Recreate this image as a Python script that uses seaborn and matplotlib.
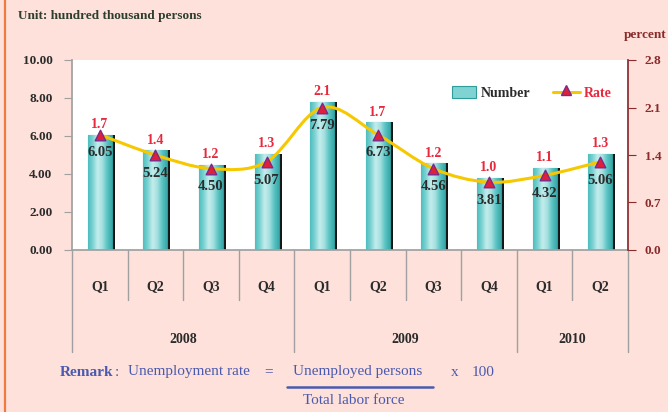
import matplotlib
matplotlib.use("Agg")
import matplotlib.pyplot as plt
import matplotlib.patheffects as pe
from matplotlib.path import Path
from matplotlib.patches import PathPatch
from matplotlib.colors import LinearSegmentedColormap
import matplotlib.transforms as mtransforms
import numpy as np
import pandas as pd
import seaborn as sns

# ---------------- data ----------------
years = ["2008", "2009", "2010"]
quarters = ["Q1", "Q2", "Q3", "Q4", "Q1", "Q2", "Q3", "Q4", "Q1", "Q2"]
period_year = ["2008"] * 4 + ["2009"] * 4 + ["2010"] * 2
numbers = [6.05, 5.24, 4.50, 5.07, 7.79, 6.73, 4.56, 3.81, 4.32, 5.06]
rates = [1.7, 1.4, 1.2, 1.3, 2.1, 1.7, 1.2, 1.0, 1.1, 1.3]
left_ticks = [0, 2, 4, 6, 8, 10]
right_ticks = [0.0, 0.7, 1.4, 2.1, 2.8]

periods = [f"{y} {q}" for y, q in zip(period_year, quarters)]
df = pd.DataFrame({"period": periods, "number": numbers, "rate": rates})

# ---------------- style ----------------
sns.set_theme(style="white")
BG = "#fde1da"
plt.rcParams["font.family"] = ["Liberation Serif", "DejaVu Serif"]

fig = plt.figure(figsize=(6.68, 4.12), dpi=100, facecolor=BG)
ax = fig.add_axes([72 / 668, 1 - 250 / 412, (628 - 72) / 668, (250 - 60) / 412])
ax.set_facecolor("white")

sns.barplot(data=df, x="period", y="number", ax=ax, color="#5cc6c6",
            width=0.43, edgecolor="#2f9c9c", linewidth=0.8, saturation=1, zorder=2)
ax.set_xlim(-0.5, len(periods) - 0.5)
ax.set_ylim(0, 10)

# gradient fill + shadow for bars
cmap = LinearSegmentedColormap.from_list(
    "teal", ["#4dbdbd", "#7fd3d3", "#c4eded", "#a5e0e0", "#5cc4c4", "#3aa9a9"])
grad = np.linspace(0, 1, 64).reshape(1, -1)
for p in ax.patches:
    p.set_path_effects([pe.SimplePatchShadow(offset=(2.2, 0), shadow_rgbFace="#151515",
                                             alpha=1.0), pe.Normal()])
    x0, y0 = p.get_x(), p.get_y()
    w, h = p.get_width(), p.get_height()
    im = ax.imshow(grad, extent=[x0, x0 + w, y0, y0 + h], aspect="auto",
                   cmap=cmap, zorder=2.5, interpolation="bicubic")
    im.set_clip_path(p)
ax.set_xlim(-0.5, len(periods) - 0.5)
ax.set_ylim(0, 10)

# left axis styling
ax.set_yticks(left_ticks)
ax.set_yticklabels([f"{t:.2f}" for t in left_ticks])
ax.tick_params(axis="y", which="both", left=True, length=6, width=0.8,
               color="#a0a0a0", pad=8, labelsize=9.5, labelcolor="#2b2b2b")
for lab in ax.get_yticklabels():
    lab.set_fontweight("bold")
ax.set_xticks([])
ax.set_xlabel("")
ax.set_ylabel("")
for s in ["top", "right"]:
    ax.spines[s].set_visible(False)
ax.spines["left"].set_color("#a0a0a0")
ax.spines["bottom"].set_color("#a0a0a0")

# category axis (quarters + years)
trans = mtransforms.blended_transform_factory(ax.transData, ax.transAxes)
q_depth = -50 / 190
y_depth = -102 / 190
for k in range(len(periods) + 1):
    xb = k - 0.5
    is_year = k == 0 or k == len(periods) or period_year[k] != period_year[k - 1]
    ax.plot([xb, xb], [0, y_depth if is_year else q_depth], transform=trans,
            color="#a0a0a0", lw=1.0, clip_on=False, zorder=1)
for i, q in enumerate(quarters):
    ax.text(i, -37 / 190, q, transform=trans, ha="center", va="center",
            fontsize=10, fontweight="bold", color="#2b2b2b")
for y in years:
    idx = [i for i, py in enumerate(period_year) if py == y]
    ax.text(np.mean(idx), -90 / 190, y, transform=trans, ha="center", va="center",
            fontsize=10, fontweight="bold", color="#2b2b2b")

# right axis (rate)
ax2 = ax.twinx()
ax2.set_ylim(0, 2.8)
ax2.set_yticks(right_ticks)
ax2.set_yticklabels([f"{t:.1f}" for t in right_ticks])
RED_AX = "#8a2a2a"
ax2.tick_params(axis="y", right=True, length=6, width=0.8, color=RED_AX, pad=6,
                labelsize=9.5, labelcolor=RED_AX)
for lab in ax2.get_yticklabels():
    lab.set_fontweight("bold")
for s in ["top", "left", "bottom"]:
    ax2.spines[s].set_visible(False)
ax2.spines["right"].set_color(RED_AX)
ax2.grid(False)

# smooth rate curve (Catmull-Rom drawn as Bezier path)
xs = list(range(len(rates)))
pts = [(x, r) for x, r in zip(xs, rates)]
verts = [pts[0]]
codes = [Path.MOVETO]
for i in range(len(pts) - 1):
    p0 = pts[i - 1] if i > 0 else pts[i]
    p1 = pts[i]
    p2 = pts[i + 1]
    p3 = pts[i + 2] if i + 2 < len(pts) else pts[i + 1]
    c1 = (p1[0] + (p2[0] - p0[0]) / 6, p1[1] + (p2[1] - p0[1]) / 6)
    c2 = (p2[0] - (p3[0] - p1[0]) / 6, p2[1] - (p3[1] - p1[1]) / 6)
    verts += [c1, c2, p2]
    codes += [Path.CURVE4] * 3
ax2.add_patch(PathPatch(Path(verts, codes), facecolor="none", edgecolor="#f6c800",
                        lw=2.2, zorder=3))
sns.scatterplot(data=df, x=xs, y="rate", ax=ax2, marker="^", s=58,
                color="#e0203a", edgecolor="#7a2a8a", linewidth=1.0, zorder=4,
                legend=False)
ax2.set_ylabel("")
ax2.set_xlim(-0.5, len(periods) - 0.5)

# rate labels: just above the bar tops
for i, (v, r) in enumerate(zip(numbers, rates)):
    ax2.text(i, v + 0.53, f"{r:.1f}", transform=ax.transData, ha="center",
             va="center", fontsize=10, fontweight="bold", color="#e8283c", zorder=5)
# number labels: just below the rate markers
for i, (v, r) in enumerate(zip(numbers, rates)):
    ax2.text(i, r - 0.27, f"{v:.2f}", ha="center", va="center", fontsize=10.5,
             fontweight="bold", color="#2b2b2b", zorder=6)

# legend (manual in axes coordinates)
leg_x = (452 - 72) / 556
leg_y = (250 - 92) / 190
ax2.add_patch(plt.Rectangle((leg_x, leg_y - 0.034), 24 / 556, 0.068,
                            transform=ax.transAxes, facecolor="#7fd3d3",
                            edgecolor="#2f9c9c", lw=0.8, zorder=6, clip_on=False))
ax2.text((481 - 72) / 556, leg_y - 0.01, "Number", transform=ax.transAxes, ha="left",
         va="center", fontsize=10, fontweight="bold", color="#2b2b2b", zorder=6)
ax2.plot([(553 - 72) / 556, (580 - 72) / 556], [leg_y, leg_y],
         transform=ax.transAxes, color="#f6c800", lw=2.2, zorder=6)
ax2.plot([(566 - 72) / 556], [leg_y + 0.008], transform=ax.transAxes, marker="^",
         ms=7.5, color="#e0203a", mec="#7a2a8a", mew=1.0, zorder=7)
ax2.text((584 - 72) / 556, leg_y - 0.01, "Rate", transform=ax.transAxes, ha="left",
         va="center", fontsize=10, fontweight="bold", color="#e8283c", zorder=6)

# figure texts
fig.text(18 / 668, 1 - 16 / 412, "Unit: hundred thousand persons", ha="left",
         va="center", fontsize=9.5, fontweight="bold", color="#2e3e2e")
fig.text(666 / 668, 1 - 35 / 412, "percent", ha="right", va="center",
         fontsize=9.5, fontweight="bold", color=RED_AX)

BLUE = "#4a5ab0"
FS = 11
fig.text(60 / 668, 1 - 372 / 412, "Remark", ha="left", va="center", fontsize=FS,
         fontweight="bold", color=BLUE)
fig.text(117 / 668, 1 - 372 / 412, ":", ha="center", va="center", fontsize=FS, color=BLUE)
fig.text(128 / 668, 1 - 372 / 412, "Unemployment rate", ha="left", va="center",
         fontsize=FS, color=BLUE)
fig.text(269 / 668, 1 - 372 / 412, "=", ha="center", va="center", fontsize=FS, color=BLUE)
fig.text(358 / 668, 1 - 372 / 412, "Unemployed persons", ha="center", va="center",
         fontsize=FS, color=BLUE)
fig.text(455 / 668, 1 - 372 / 412, "x", ha="center", va="center", fontsize=FS, color=BLUE)
fig.text(483 / 668, 1 - 372 / 412, "100", ha="center", va="center", fontsize=FS, color=BLUE)
fig.add_artist(plt.Line2D([287 / 668, 433 / 668], [1 - 387 / 412, 1 - 387 / 412],
                          transform=fig.transFigure, color=BLUE, lw=1.8))
fig.text(354 / 668, 1 - 401 / 412, "Total labor force", ha="center", va="center",
         fontsize=FS, color=BLUE)
fig.add_artist(plt.Line2D([5 / 668, 5 / 668], [0, 1], transform=fig.transFigure,
                          color="#f07a40", lw=1.6))

fig.savefig("out.png", dpi=100, facecolor=BG)
